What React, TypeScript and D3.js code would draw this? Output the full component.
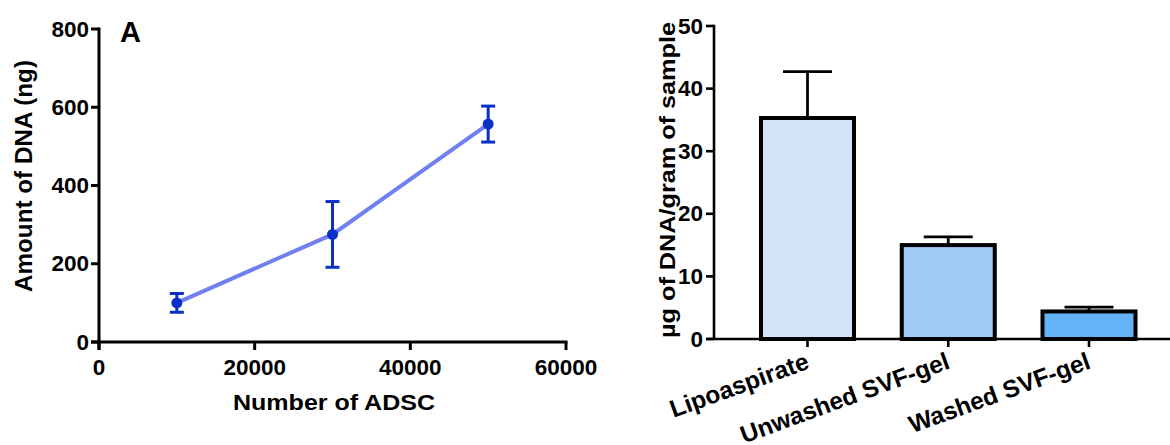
import React from "react";
import * as d3 from "d3";

// Panel A: DNA amount vs number of ADSC
const cellCounts = [10000, 30000, 50000];
const dnaMeans = [100, 275, 557];
const dnaErrors = [24, 84, 46];
const xTicksA = [0, 20000, 40000, 60000];
const yTicksA = [0, 200, 400, 600, 800];

// Panel B: DNA per gram of sample
const samples = ["Lipoaspirate", "Unwashed SVF-gel", "Washed SVF-gel"];
const dnaPerGram = [35.3, 15.0, 4.4];
const dnaPerGramErr = [7.4, 1.3, 0.7];
const sampleColors = ["#d3e4f8", "#a1cbf5", "#64b2f8"];
const yTicksB = [0, 10, 20, 30, 40, 50];

const FONT = "'Liberation Sans', Arial, Helvetica, sans-serif";
const TICK_FS = 22.5;

export default function App() {
  const W = 1170;
  const H = 445;

  // Scales for panel A
  const xA = d3.scaleLinear().domain([0, 60000]).range([99, 566]);
  const yA = d3.scaleLinear().domain([0, 800]).range([342, 29]);
  const lineA = d3
    .line<number>()
    .x((_, i) => xA(cellCounts[i]))
    .y((d) => yA(d));

  // Scales for panel B
  const axisXB = 714;
  const xB = d3.scalePoint<string>().domain(samples).range([807.5, 1089]);
  const yB = d3.scaleLinear().domain([0, 50]).range([339, 26]);
  const barW = 93;

  const tick = 8;

  return (
    <svg
      width={W}
      height={H}
      style={{ position: "absolute", left: 0, top: 0, background: "#fff" }}
      fontFamily={FONT}
      fontWeight="bold"
    >
      {/* ---------- Panel A ---------- */}
      <g>
        {/* data */}
        <path d={lineA(dnaMeans) || ""} fill="none" stroke="#7080f0" strokeWidth={4} />
        {dnaMeans.map((m, i) => {
          const cx = xA(cellCounts[i]);
          return (
            <g key={i} stroke="#0a30c8" strokeWidth={3}>
              <line x1={cx} x2={cx} y1={yA(m + dnaErrors[i])} y2={yA(m - dnaErrors[i])} />
              <line x1={cx - 7} x2={cx + 7} y1={yA(m + dnaErrors[i])} y2={yA(m + dnaErrors[i])} />
              <line x1={cx - 7} x2={cx + 7} y1={yA(m - dnaErrors[i])} y2={yA(m - dnaErrors[i])} />
              <circle cx={cx} cy={yA(m)} r={5.5} fill="#0a30c8" stroke="none" />
            </g>
          );
        })}

        {/* axes */}
        <line x1={xA(0)} x2={xA(0)} y1={yA(800) - 1.5} y2={yA(0) + tick} stroke="#000" strokeWidth={3} />
        <line x1={xA(0) - tick} x2={xA(60000) + 1.5} y1={yA(0)} y2={yA(0)} stroke="#000" strokeWidth={3} />
        {yTicksA.map((t) => (
          <g key={t}>
            <line x1={xA(0) - tick} x2={xA(0)} y1={yA(t)} y2={yA(t)} stroke="#000" strokeWidth={3} />
            <text x={xA(0) - 10} y={yA(t)} textAnchor="end" dominantBaseline="central" fontSize={TICK_FS}>
              {t}
            </text>
          </g>
        ))}
        {xTicksA.map((t) => (
          <g key={t}>
            <line x1={xA(t)} x2={xA(t)} y1={yA(0)} y2={yA(0) + tick} stroke="#000" strokeWidth={3} />
            <text x={xA(t)} y={375} textAnchor="middle" fontSize={TICK_FS}>
              {t}
            </text>
          </g>
        ))}
        <text x={334} y={410} textAnchor="middle" fontSize={22.5} textLength={202} lengthAdjust="spacingAndGlyphs">
          Number of ADSC
        </text>
        <text
          transform="translate(32,176) rotate(-90)"
          textAnchor="middle"
          fontSize={23}
          textLength={232}
          lengthAdjust="spacingAndGlyphs"
        >
          Amount of DNA (ng)
        </text>
        <text x={120} y={41.5} fontSize={29}>
          A
        </text>
      </g>

      {/* ---------- Panel B ---------- */}
      <g>
        {/* bars with upper error bars */}
        {samples.map((s, i) => {
          const cx = xB(s)!;
          const top = yB(dnaPerGram[i]);
          const errY = yB(dnaPerGram[i] + dnaPerGramErr[i]);
          return (
            <g key={s}>
              <line x1={cx} x2={cx} y1={top} y2={errY} stroke="#000" strokeWidth={2.8} />
              <line x1={cx - 24.5} x2={cx + 24.5} y1={errY} y2={errY} stroke="#000" strokeWidth={2.8} />
              <rect
                x={cx - barW / 2}
                y={top}
                width={barW}
                height={yB(0) - top}
                fill={sampleColors[i]}
                stroke="#000"
                strokeWidth={4}
              />
            </g>
          );
        })}
        {/* axes */}
        <line x1={axisXB} x2={axisXB} y1={yB(50) - 1.3} y2={yB(0)} stroke="#000" strokeWidth={2.6} />
        <line x1={axisXB - tick} x2={1170} y1={yB(0)} y2={yB(0)} stroke="#000" strokeWidth={2.6} />
        {yTicksB.map((t) => (
          <g key={t}>
            <line x1={axisXB - tick} x2={axisXB} y1={yB(t)} y2={yB(t)} stroke="#000" strokeWidth={2.6} />
            <text x={axisXB - 11} y={yB(t)} textAnchor="end" dominantBaseline="central" fontSize={TICK_FS}>
              {t}
            </text>
          </g>
        ))}
        {samples.map((s) => {
          const cx = xB(s)!;
          return (
            <g key={s}>
              <line x1={cx} x2={cx} y1={yB(0)} y2={yB(0) + tick} stroke="#000" strokeWidth={2.6} />
              <text
                transform={`translate(${cx + 3},${yB(0) + 29}) rotate(-20)`}
                textAnchor="end"
                fontSize={24.5}
              >
                {s}
              </text>
            </g>
          );
        })}
        <text
          transform="translate(675,180) rotate(-90)"
          textAnchor="middle"
          fontSize={22}
          textLength={316}
          lengthAdjust="spacingAndGlyphs"
        >
          µg of DNA/gram of sample
        </text>
      </g>
    </svg>
  );
}
